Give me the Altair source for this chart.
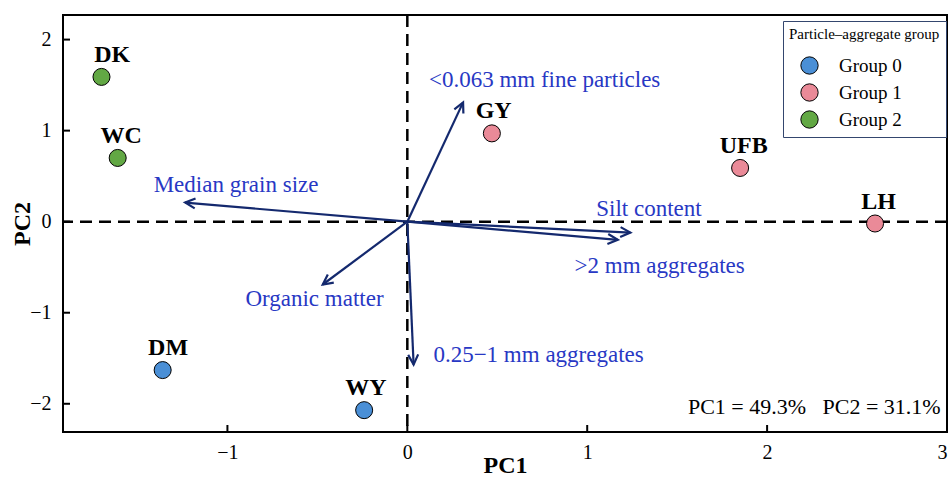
import math
import altair as alt
import pandas as pd

# ---- data ----
sites = ["DK", "WC", "DM", "WY", "GY", "UFB", "LH"]
pc1 = [-1.70, -1.61, -1.36, -0.24, 0.47, 1.85, 2.60]
pc2 = [1.59, 0.70, -1.63, -2.07, 0.97, 0.59, -0.02]
groups = ["Group 2", "Group 2", "Group 0", "Group 0", "Group 1", "Group 1", "Group 1"]
site_label_x = [-1.64, -1.59, -1.33, -0.23, 0.48, 1.87, 2.62]

variables = ["<0.063 mm fine particles", "Median grain size", "Silt content",
             ">2 mm aggregates", "Organic matter", "0.25\u22121 mm aggregates"]
load1 = [0.31, -1.235, 1.24, 1.17, -0.47, 0.035]
load2 = [1.31, 0.21, -0.12, -0.20, -0.69, -1.57]
var_label_x = [0.12, -1.41, 1.05, 0.93, -0.90, 0.145]
var_label_y = [1.56, 0.40, 0.14, -0.49, -0.85, -1.46]

group_names = ["Group 0", "Group 1", "Group 2"]
group_colors = ["#4a8fd6", "#ea8a98", "#62a844"]

x_ticks = [-1, 0, 1, 2, 3]
y_ticks = [-2, -1, 0, 1, 2]
x_domain = [-1.914, 3.0]
y_domain = [-2.31, 2.27]

annotation = "PC1 = 49.3%\u00a0\u00a0\u00a0PC2 = 31.1%"
annotation_x = [2.965]
annotation_y = [-2.03]

# ---- layout ----
W, H = 884, 417
FONT = "Liberation Serif"
ARROW = "#14296e"
LABEL_BLUE = "#2838c4"

kx = W / (x_domain[1] - x_domain[0])
ky = H / (y_domain[1] - y_domain[0])

pts = pd.DataFrame({"site": sites, "PC1": pc1, "PC2": pc2, "group": groups,
                    "lx": site_label_x})
arr = pd.DataFrame({"var": variables, "x2": load1, "y2": load2,
                    "lx": var_label_x, "ly": var_label_y})
arr["x0"] = 0.0
arr["y0"] = 0.0
arr["angle"] = [(math.degrees(math.atan2(a * kx, b * ky)) + 360) % 360
                for a, b in zip(load1, load2)]

xs = alt.Scale(domain=x_domain, nice=False, zero=False)
ys = alt.Scale(domain=y_domain, nice=False, zero=False)

x_axis = alt.Axis(values=x_ticks, ticks=False, domain=False, grid=False,
                  labelPadding=10, labelFontSize=20, labelFont=FONT, labelColor="black",
                  titleFont=FONT, titleFontSize=24, titleFontWeight="bold",
                  titleColor="black", titleX=W / 2, titleY=33,
                  titleBaseline="middle", titleAlign="center")
y_axis = alt.Axis(values=y_ticks, ticks=False, domain=False, grid=False,
                  labelPadding=12, labelFontSize=20, labelFont=FONT, labelColor="black",
                  titleFont=FONT, titleFontSize=24, titleFontWeight="bold",
                  titleColor="black", titleX=-41, titleY=H / 2, titleAngle=270,
                  titleBaseline="middle", titleAlign="center")


def X(field):
    return alt.X(field, scale=xs, title="PC1", axis=x_axis)


def Y(field):
    return alt.Y(field, scale=ys, title="PC2", axis=y_axis)


zero_df = pd.DataFrame({"v": [0.0]})
vline = alt.Chart(zero_df).mark_rule(color="black", strokeWidth=2.5, strokeDash=[12, 7]).encode(
    x=X("v:Q"))
hline = alt.Chart(zero_df).mark_rule(color="black", strokeWidth=2.5, strokeDash=[12, 7]).encode(
    y=Y("v:Q"))

xt = alt.Chart(pd.DataFrame({"t": x_ticks})).mark_rule(color="black", strokeWidth=2).encode(
    x=X("t:Q"), y=alt.value(H), y2=alt.value(H - 7))
yt = alt.Chart(pd.DataFrame({"t": y_ticks})).mark_rule(color="black", strokeWidth=2).encode(
    y=Y("t:Q"), x=alt.value(0), x2=alt.value(7))

lines = alt.Chart(arr).mark_rule(color=ARROW, strokeWidth=2.2).encode(
    x=X("x0:Q"), y=Y("y0:Q"), x2="x2:Q", y2="y2:Q")
heads = alt.Chart(arr).mark_point(shape="M-0.5,1L0,0L0.5,1", filled=False, size=400,
                                  color=ARROW, strokeWidth=2.2, opacity=1).encode(
    x=X("x2:Q"), y=Y("y2:Q"), angle=alt.Angle("angle:Q", scale=None))
vlabels = alt.Chart(arr).mark_text(align="left", baseline="middle", fontSize=23,
                                   font=FONT, color=LABEL_BLUE).encode(
    x=X("lx:Q"), y=Y("ly:Q"), text="var:N")

points = alt.Chart(pts).mark_circle(size=290, stroke="black", strokeWidth=1, opacity=1).encode(
    x=X("PC1:Q"), y=Y("PC2:Q"),
    color=alt.Color("group:N", scale=alt.Scale(domain=group_names, range=group_colors),
                    legend=alt.Legend(title="Particle\u2013aggregate group", orient="none",
                                      legendX=720, legendY=6, padding=6,
                                      strokeColor="#34466e", fillColor="white",
                                      titleFont=FONT, titleFontSize=15, titleFontWeight="normal",
                                      titleColor="black", titlePadding=14,
                                      labelFont=FONT, labelFontSize=19, labelColor="black",
                                      symbolType="circle", symbolSize=300,
                                      symbolStrokeColor="black", symbolStrokeWidth=1,
                                      symbolOpacity=1, rowPadding=4,
                                      symbolOffset=11, labelOffset=20)))
plabels = alt.Chart(pts).mark_text(baseline="middle", align="center", fontSize=24,
                                   fontWeight="bold", font=FONT, color="black", dy=-22).encode(
    x=X("lx:Q"), y=Y("PC2:Q"), text="site:N")

note_df = pd.DataFrame({"t": [annotation], "nx": annotation_x, "ny": annotation_y})
note = alt.Chart(note_df).mark_text(
    align="right", baseline="middle", fontSize=22, font=FONT, color="black").encode(
    x=X("nx:Q"), y=Y("ny:Q"), text="t:N")

chart = alt.layer(vline, hline, lines, heads, vlabels, points, plabels, note, xt, yt).properties(
    width=W, height=H,
    padding={"left": 63, "top": 15, "right": 2, "bottom": 47},
    autosize=alt.AutoSizeParams(type="none"),
).configure(font=FONT, background="white").configure_view(stroke="black", strokeWidth=2)

chart.save("out.html", embed_options={"renderer": "svg", "actions": False})
